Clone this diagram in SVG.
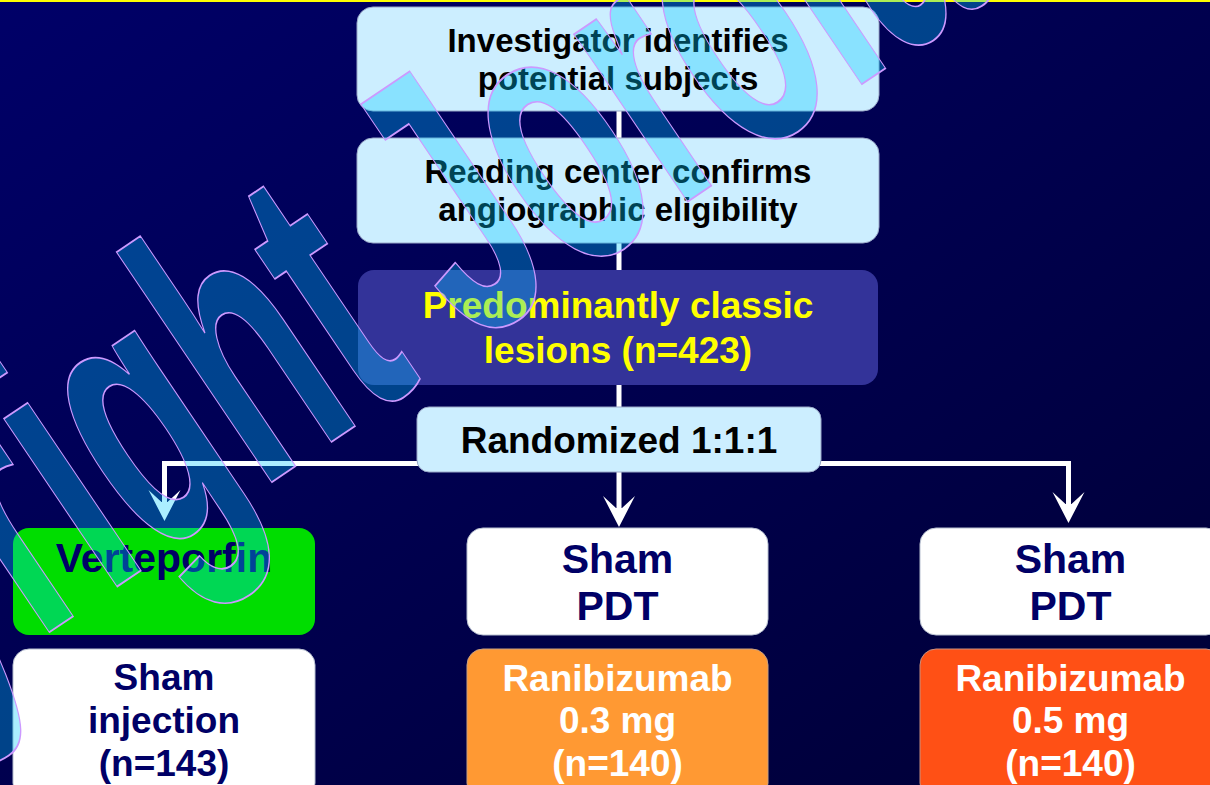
<svg xmlns="http://www.w3.org/2000/svg" width="1210" height="785" viewBox="0 0 1210 785">
<defs>
<linearGradient id="bg" x1="0" y1="0" x2="1" y2="1">
<stop offset="0" stop-color="#000068"/>
<stop offset="1" stop-color="#000035"/>
</linearGradient>
<marker id="arr" markerUnits="userSpaceOnUse" markerWidth="34" markerHeight="34" viewBox="0 0 34 34" refX="12" refY="16" orient="auto">
<path d="M31,16 L0,0 L12,13 L12,19 L0,32 Z" fill="#ffffff"/>
</marker>
<style>
.lb{fill:#cceeff;stroke:#9aa8c8;stroke-width:1}
.wb{fill:#ffffff;stroke:#b8c0d0;stroke-width:1}
.t{font-family:"Liberation Sans",Arial,sans-serif;font-weight:bold;text-anchor:middle}
.blk{fill:#000000;font-size:33px}
.nv{fill:#000066}
.big{font-size:41px}
.mid{font-size:37px}
.conn{fill:none;stroke:#ffffff;stroke-width:5}
</style>
</defs>
<rect x="0" y="0" width="1210" height="785" fill="url(#bg)"/>
<rect x="0" y="0" width="1210" height="2" fill="#ffff00"/>

<g id="connectors">
<path class="conn" d="M619,110 V407"/>
<path class="conn" d="M619,472 V508" marker-end="url(#arr)"/>
<path class="conn" d="M164.5,463.5 H1068.5" stroke-linejoin="round"/>
<path class="conn" d="M164.5,461 V502" marker-end="url(#arr)"/>
<path class="conn" d="M1068.5,461 V504" marker-end="url(#arr)"/>
</g>

<g id="node-investigator">
<rect class="lb" x="357" y="7" width="522" height="104" rx="16"/>
<text class="t blk" x="618" y="52">Investigator identifies</text>
<text class="t blk" x="618" y="90">potential subjects</text>
</g>
<g id="node-reading">
<rect class="lb" x="357" y="138" width="522" height="105" rx="16"/>
<text class="t blk" x="618" y="183">Reading center confirms</text>
<text class="t blk" x="618" y="221">angiographic eligibility</text>
</g>
<g id="node-lesions">
<rect x="358" y="270" width="520" height="115" rx="16" fill="#333399"/>
<text class="t" x="618" y="318" font-size="37" fill="#ffff00">Predominantly classic</text>
<text class="t" x="618" y="363" font-size="37" fill="#ffff00">lesions (n=423)</text>
</g>
<g id="node-randomized">
<rect class="lb" x="417" y="407" width="404" height="65" rx="12"/>
<text class="t" x="619" y="453" font-size="37" fill="#000000">Randomized 1:1:1</text>
</g>

<g id="node-verteporfin">
<rect x="13" y="528" width="302" height="107" rx="16" fill="#00dd00"/>
<text class="t nv big" x="164" y="572">Verteporfin</text>
</g>
<g id="node-sham-injection">
<rect class="wb" x="13" y="649" width="302" height="150" rx="16"/>
<text class="t nv mid" x="164" y="690">Sham</text>
<text class="t nv mid" x="164" y="733">injection</text>
<text class="t nv mid" x="164" y="776">(n=143)</text>
</g>
<g id="node-sham-pdt-1">
<rect class="wb" x="467" y="528" width="301" height="107" rx="16"/>
<text class="t nv big" x="617.5" y="573">Sham</text>
<text class="t nv big" x="617.5" y="620">PDT</text>
</g>
<g id="node-rani-03">
<rect x="467" y="649" width="301" height="150" rx="16" fill="#ff9933" stroke="#c8a080" stroke-width="1"/>
<text class="t mid" x="617.5" y="691" fill="#ffffff">Ranibizumab</text>
<text class="t mid" x="617.5" y="733" fill="#ffffff">0.3 mg</text>
<text class="t mid" x="617.5" y="776" fill="#ffffff">(n=140)</text>
</g>
<g id="node-sham-pdt-2">
<rect class="wb" x="920" y="528" width="302" height="107" rx="16"/>
<text class="t nv big" x="1070.5" y="573">Sham</text>
<text class="t nv big" x="1070.5" y="620">PDT</text>
</g>
<g id="node-rani-05">
<rect x="920" y="649" width="302" height="150" rx="16" fill="#ff5015" stroke="#c89080" stroke-width="1"/>
<text class="t mid" x="1070.5" y="691" fill="#ffffff">Ranibizumab</text>
<text class="t mid" x="1070.5" y="733" fill="#ffffff">0.5 mg</text>
<text class="t mid" x="1070.5" y="776" fill="#ffffff">(n=140)</text>
</g>

<g id="watermark" transform="translate(259.6,490.4) rotate(-34) scale(2.1,3.83)">
<text x="-377.8" y="0" font-family="Liberation Sans, Arial, sans-serif" font-weight="bold" font-size="100" fill="#00ccff" fill-opacity="0.33" stroke="#cc99ff" stroke-width="1.5" vector-effect="non-scaling-stroke">Copyright Jorola</text>
</g>
</svg>
